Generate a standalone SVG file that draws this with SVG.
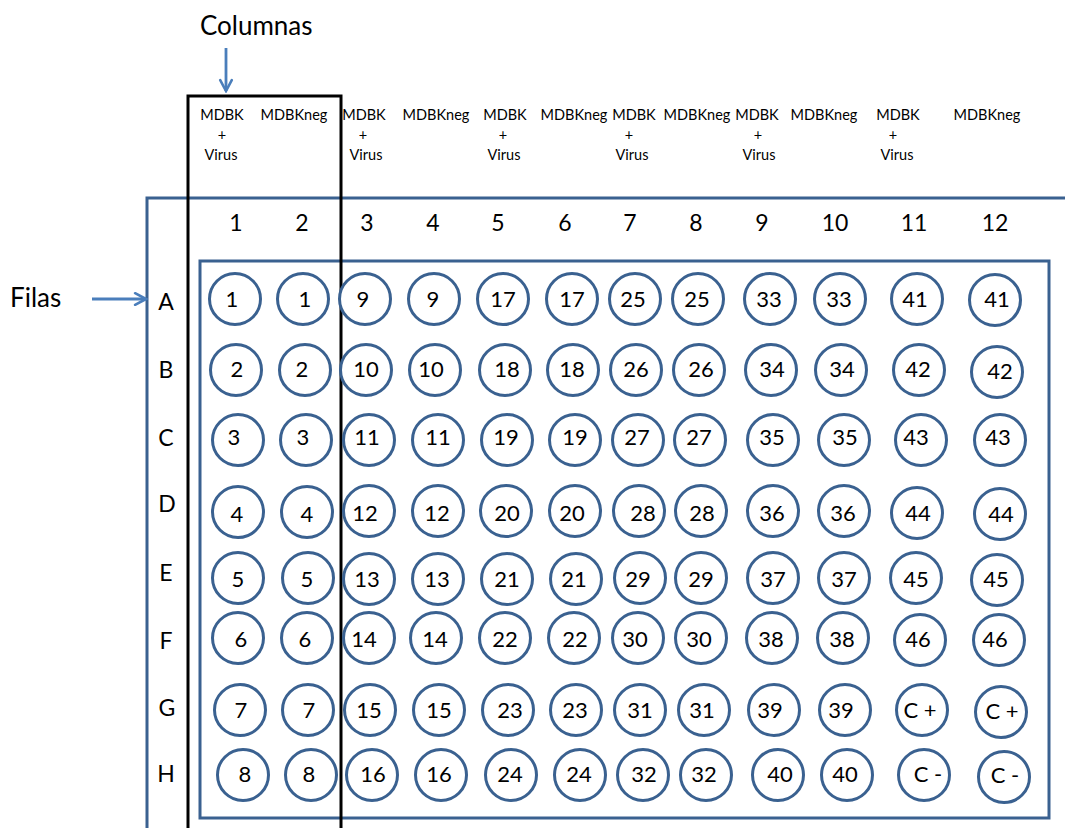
<svg xmlns="http://www.w3.org/2000/svg" width="1065" height="828" viewBox="0 0 1065 828">
<style>
text{font-family:Lato,"Open Sans","Liberation Sans",sans-serif;fill:#000}
.w circle{fill:#fff;stroke:#3a6190;stroke-width:3}
.w text{font-size:22px;text-anchor:middle}
.hd{font-size:23px;text-anchor:middle}
.lb{font-size:14.5px;text-anchor:middle}
.big{font-size:26px}
.plate{fill:none;stroke:#3a6190;stroke-width:3}
.arr{stroke:#4a7ebb;stroke-width:2.8;fill:none}
</style>
<defs>
<marker id="ah" viewBox="0 0 12 12" refX="10.5" refY="6" markerWidth="5.5" markerHeight="5.5" orient="auto" markerUnits="strokeWidth">
<path d="M2,1.5 L10.5,6 L2,10.5" fill="none" stroke="#4a7ebb" stroke-width="2" stroke-linecap="round"/>
</marker>
</defs>
<rect width="1065" height="828" fill="#fff"/>
<g id="plate">
<path class="plate" d="M1066,198 H147 V830"/>
<rect class="plate" x="200" y="261" width="849" height="557"/>
</g>
<rect id="column-highlight" x="188" y="96" width="153" height="740" fill="none" stroke="#000" stroke-width="3"/>
<g id="labels">
<text class="big" x="200" y="35">Columnas</text>
<text class="big" x="10" y="307">Filas</text>
<g class="lb">
<text x="222" y="120">MDBK</text><text x="222" y="140">+</text><text x="221" y="160">Virus</text>
<text x="294" y="120">MDBKneg</text>
<text x="364" y="120">MDBK</text><text x="363" y="140">+</text><text x="366" y="160">Virus</text>
<text x="436" y="120">MDBKneg</text>
<text x="505" y="120">MDBK</text><text x="503" y="140">+</text><text x="504" y="160">Virus</text>
<text x="574" y="120">MDBKneg</text>
<text x="634" y="120">MDBK</text><text x="629" y="140">+</text><text x="632" y="160">Virus</text>
<text x="697" y="120">MDBKneg</text>
<text x="757" y="120">MDBK</text><text x="758" y="140">+</text><text x="759" y="160">Virus</text>
<text x="824" y="120">MDBKneg</text>
<text x="898" y="120">MDBK</text><text x="893" y="140">+</text><text x="897" y="160">Virus</text>
<text x="987" y="120">MDBKneg</text>
</g>
<g class="hd">
<text x="236" y="231">1</text><text x="302" y="231">2</text><text x="367" y="231">3</text><text x="433" y="231">4</text><text x="498" y="231">5</text><text x="565" y="231">6</text><text x="630" y="231">7</text><text x="696" y="231">8</text><text x="762" y="231">9</text><text x="835" y="231">10</text><text x="914" y="231">11</text><text x="995" y="231">12</text>
<text x="166" y="310">A</text><text x="166" y="378">B</text><text x="166" y="446">C</text><text x="167" y="512">D</text><text x="166" y="581">E</text><text x="166" y="649">F</text><text x="167" y="716">G</text><text x="166" y="782">H</text>
</g>
</g>
<g id="connectors">
<line class="arr" x1="226" y1="48" x2="226" y2="91" marker-end="url(#ah)"/>
<line class="arr" x1="92" y1="299" x2="146" y2="299" marker-end="url(#ah)"/>
</g>
<g id="wells" class="w">
<g id="A1"><circle cx="235" cy="299" r="25.5"/><text x="232" y="307">1</text></g>
<g id="A2"><circle cx="303" cy="299" r="25.5"/><text x="305" y="307">1</text></g>
<g id="A3"><circle cx="365" cy="299" r="25.5"/><text x="363" y="307">9</text></g>
<g id="A4"><circle cx="434" cy="299" r="25.5"/><text x="433" y="307">9</text></g>
<g id="A5"><circle cx="503" cy="299" r="25.5"/><text x="503" y="307">17</text></g>
<g id="A6"><circle cx="572" cy="299" r="25.5"/><text x="572" y="307">17</text></g>
<g id="A7"><circle cx="635" cy="299" r="25.5"/><text x="633" y="307">25</text></g>
<g id="A8"><circle cx="698" cy="299" r="25.5"/><text x="697" y="307">25</text></g>
<g id="A9"><circle cx="770" cy="299" r="25.5"/><text x="769" y="307">33</text></g>
<g id="A10"><circle cx="840" cy="299" r="25.5"/><text x="839" y="307">33</text></g>
<g id="A11"><circle cx="917" cy="299" r="25.5"/><text x="915" y="307">41</text></g>
<g id="A12"><circle cx="995" cy="300" r="25.5"/><text x="997" y="307">41</text></g>

<g id="B1"><circle cx="236" cy="370" r="25.5"/><text x="237" y="377">2</text></g>
<g id="B2"><circle cx="305" cy="370" r="25.5"/><text x="302" y="377">2</text></g>
<g id="B3"><circle cx="366" cy="370" r="25.5"/><text x="366" y="377">10</text></g>
<g id="B4"><circle cx="435" cy="370" r="25.5"/><text x="431" y="377">10</text></g>
<g id="B5"><circle cx="505" cy="370" r="25.5"/><text x="507" y="377">18</text></g>
<g id="B6"><circle cx="573" cy="370" r="25.5"/><text x="572" y="377">18</text></g>
<g id="B7"><circle cx="636" cy="370" r="25.5"/><text x="636" y="377">26</text></g>
<g id="B8"><circle cx="699" cy="370" r="25.5"/><text x="701" y="377">26</text></g>
<g id="B9"><circle cx="771" cy="370" r="25.5"/><text x="772" y="377">34</text></g>
<g id="B10"><circle cx="841" cy="370" r="25.5"/><text x="842" y="377">34</text></g>
<g id="B11"><circle cx="919" cy="370" r="25.5"/><text x="918" y="377">42</text></g>
<g id="B12"><circle cx="997" cy="372" r="25.5"/><text x="1000" y="379">42</text></g>

<g id="C1"><circle cx="238" cy="440" r="25.5"/><text x="234" y="445">3</text></g>
<g id="C2"><circle cx="306" cy="440" r="25.5"/><text x="303" y="445">3</text></g>
<g id="C3"><circle cx="369" cy="440" r="25.5"/><text x="367" y="445">11</text></g>
<g id="C4"><circle cx="438" cy="440" r="25.5"/><text x="438" y="445">11</text></g>
<g id="C5"><circle cx="507" cy="440" r="25.5"/><text x="506" y="445">19</text></g>
<g id="C6"><circle cx="575" cy="440" r="25.5"/><text x="575" y="445">19</text></g>
<g id="C7"><circle cx="638" cy="440" r="25.5"/><text x="637" y="445">27</text></g>
<g id="C8"><circle cx="700" cy="440" r="25.5"/><text x="699" y="445">27</text></g>
<g id="C9"><circle cx="773" cy="440" r="25.5"/><text x="772" y="445">35</text></g>
<g id="C10"><circle cx="844" cy="440" r="25.5"/><text x="845" y="445">35</text></g>
<g id="C11"><circle cx="921" cy="440" r="25.5"/><text x="916" y="445">43</text></g>
<g id="C12"><circle cx="1000" cy="440" r="25.5"/><text x="998" y="445">43</text></g>

<g id="D1"><circle cx="238" cy="512" r="25.5"/><text x="237" y="522">4</text></g>
<g id="D2"><circle cx="307" cy="512" r="25.5"/><text x="307" y="522">4</text></g>
<g id="D3"><circle cx="369" cy="511" r="25.5"/><text x="365" y="521">12</text></g>
<g id="D4"><circle cx="438" cy="511" r="25.5"/><text x="437" y="521">12</text></g>
<g id="D5"><circle cx="506" cy="511" r="25.5"/><text x="507" y="521">20</text></g>
<g id="D6"><circle cx="575" cy="511" r="25.5"/><text x="572" y="521">20</text></g>
<g id="D7"><circle cx="639" cy="511" r="25.5"/><text x="643" y="521">28</text></g>
<g id="D8"><circle cx="701" cy="511" r="25.5"/><text x="702" y="521">28</text></g>
<g id="D9"><circle cx="773" cy="511" r="25.5"/><text x="772" y="521">36</text></g>
<g id="D10"><circle cx="844" cy="511" r="25.5"/><text x="843" y="521">36</text></g>
<g id="D11"><circle cx="917" cy="513" r="25.5"/><text x="918" y="521">44</text></g>
<g id="D12"><circle cx="1000" cy="514" r="25.5"/><text x="1001" y="522">44</text></g>

<g id="E1"><circle cx="238" cy="578" r="25.5"/><text x="238" y="587">5</text></g>
<g id="E2"><circle cx="308" cy="578" r="25.5"/><text x="307" y="587">5</text></g>
<g id="E3"><circle cx="369" cy="579" r="25.5"/><text x="367" y="587">13</text></g>
<g id="E4"><circle cx="438" cy="579" r="25.5"/><text x="437" y="587">13</text></g>
<g id="E5"><circle cx="507" cy="579" r="25.5"/><text x="507" y="587">21</text></g>
<g id="E6"><circle cx="576" cy="579" r="25.5"/><text x="574" y="587">21</text></g>
<g id="E7"><circle cx="640" cy="578" r="25.5"/><text x="638" y="587">29</text></g>
<g id="E8"><circle cx="701" cy="578" r="25.5"/><text x="701" y="587">29</text></g>
<g id="E9"><circle cx="773" cy="578" r="25.5"/><text x="773" y="587">37</text></g>
<g id="E10"><circle cx="844" cy="578" r="25.5"/><text x="844" y="587">37</text></g>
<g id="E11"><circle cx="916" cy="578" r="25.5"/><text x="916" y="587">45</text></g>
<g id="E12"><circle cx="997" cy="580" r="25.5"/><text x="996" y="587">45</text></g>

<g id="F1"><circle cx="238" cy="638" r="25.5"/><text x="241" y="647">6</text></g>
<g id="F2"><circle cx="307" cy="638" r="25.5"/><text x="305" y="647">6</text></g>
<g id="F3"><circle cx="369" cy="638" r="25.5"/><text x="364" y="647">14</text></g>
<g id="F4"><circle cx="436" cy="638" r="25.5"/><text x="435" y="647">14</text></g>
<g id="F5"><circle cx="505" cy="638" r="25.5"/><text x="505" y="647">22</text></g>
<g id="F6"><circle cx="574" cy="638" r="25.5"/><text x="575" y="647">22</text></g>
<g id="F7"><circle cx="638" cy="638" r="25.5"/><text x="635" y="647">30</text></g>
<g id="F8"><circle cx="701" cy="638" r="25.5"/><text x="699" y="647">30</text></g>
<g id="F9"><circle cx="772" cy="638" r="25.5"/><text x="771" y="647">38</text></g>
<g id="F10"><circle cx="843" cy="638" r="25.5"/><text x="842" y="647">38</text></g>
<g id="F11"><circle cx="920" cy="640" r="25.5"/><text x="918" y="647">46</text></g>
<g id="F12"><circle cx="999" cy="640" r="25.5"/><text x="995" y="647">46</text></g>

<g id="G1"><circle cx="240" cy="710" r="25.5"/><text x="241" y="718">7</text></g>
<g id="G2"><circle cx="308" cy="710" r="25.5"/><text x="309" y="718">7</text></g>
<g id="G3"><circle cx="370" cy="710" r="25.5"/><text x="369" y="718">15</text></g>
<g id="G4"><circle cx="439" cy="710" r="25.5"/><text x="439" y="718">15</text></g>
<g id="G5"><circle cx="508" cy="710" r="25.5"/><text x="510" y="718">23</text></g>
<g id="G6"><circle cx="576" cy="710" r="25.5"/><text x="575" y="718">23</text></g>
<g id="G7"><circle cx="640" cy="710" r="25.5"/><text x="640" y="718">31</text></g>
<g id="G8"><circle cx="704" cy="710" r="25.5"/><text x="702" y="718">31</text></g>
<g id="G9"><circle cx="774" cy="710" r="25.5"/><text x="770" y="718">39</text></g>
<g id="G10"><circle cx="845" cy="710" r="25.5"/><text x="841" y="718">39</text></g>
<g id="G11"><circle cx="922" cy="710" r="25.5"/><text x="920" y="718">C +</text></g>
<g id="G12"><circle cx="1001" cy="712" r="25.5"/><text x="1002" y="719">C +</text></g>

<g id="H1"><circle cx="243" cy="775" r="25.5"/><text x="245" y="782">8</text></g>
<g id="H2"><circle cx="311" cy="775" r="25.5"/><text x="309" y="782">8</text></g>
<g id="H3"><circle cx="372" cy="775" r="25.5"/><text x="373" y="782">16</text></g>
<g id="H4"><circle cx="441" cy="775" r="25.5"/><text x="439" y="782">16</text></g>
<g id="H5"><circle cx="511" cy="775" r="25.5"/><text x="510" y="782">24</text></g>
<g id="H6"><circle cx="580" cy="775" r="25.5"/><text x="579" y="782">24</text></g>
<g id="H7"><circle cx="643" cy="775" r="25.5"/><text x="644" y="782">32</text></g>
<g id="H8"><circle cx="706" cy="775" r="25.5"/><text x="704" y="782">32</text></g>
<g id="H9"><circle cx="778" cy="775" r="25.5"/><text x="780" y="782">40</text></g>
<g id="H10"><circle cx="847" cy="775" r="25.5"/><text x="845" y="782">40</text></g>
<g id="H11"><circle cx="924" cy="775" r="25.5"/><text x="928" y="782">C -</text></g>
<g id="H12"><circle cx="1004" cy="777" r="25.5"/><text x="1005" y="783">C -</text></g>
</g>
</svg>
